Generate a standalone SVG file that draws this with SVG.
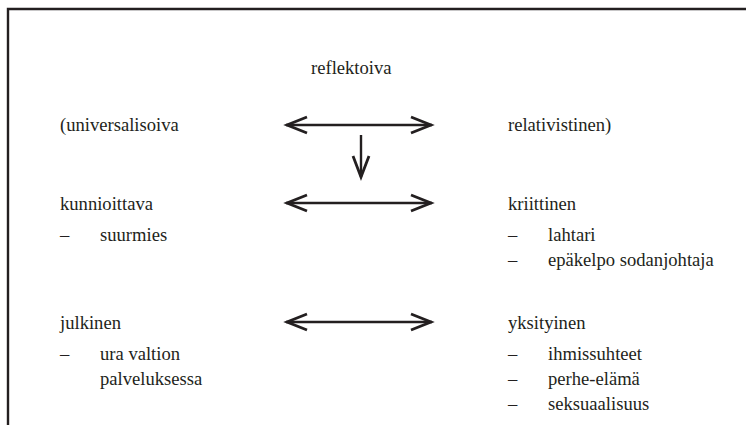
<svg xmlns="http://www.w3.org/2000/svg" width="746" height="425" viewBox="0 0 746 425">
<style>
text{font-family:'Liberation Serif','Times New Roman',serif;font-size:18.6px;fill:#231f20}
.ln{stroke:#231f20;stroke-width:2.4;fill:none}
.hd{stroke:#231f20;stroke-width:2.8;fill:none;stroke-linejoin:miter}
.frame{stroke:#231f20;stroke-width:2.4;fill:none}
</style>
<defs>
<g id="dbl">
<line class="ln" x1="286" y1="0" x2="432" y2="0"/>
<polyline class="hd" points="307,-8 287,0 307,8"/>
<polyline class="hd" points="411,-8 431,0 411,8"/>
</g>
</defs>
<rect width="746" height="425" fill="#fff"/>
<path class="frame" d="M8,426 V9 H747"/>
<g id="n-reflektoiva"><text x="311" y="74">reflektoiva</text></g>
<g id="n-universalisoiva"><text x="60" y="131">(universalisoiva</text></g>
<g id="n-relativistinen"><text x="508" y="131">relativistinen)</text></g>
<g id="n-kunnioittava"><text x="60" y="210">kunnioittava</text><text x="60" y="241">–</text><text x="100" y="241">suurmies</text></g>
<g id="n-kriittinen"><text x="508" y="210">kriittinen</text><text x="508" y="241">–</text><text x="548" y="241">lahtari</text><text x="508" y="266">–</text><text x="548" y="266">epäkelpo sodanjohtaja</text></g>
<g id="n-julkinen"><text x="60" y="329">julkinen</text><text x="60" y="360">–</text><text x="100" y="360">ura valtion</text><text x="100" y="385">palveluksessa</text></g>
<g id="n-yksityinen"><text x="508" y="329">yksityinen</text><text x="508" y="360">–</text><text x="548" y="360">ihmissuhteet</text><text x="508" y="385">–</text><text x="548" y="385">perhe-elämä</text><text x="508" y="410">–</text><text x="548" y="410">seksuaalisuus</text></g>
<g id="connectors">
<use href="#dbl" y="125"/>
<use href="#dbl" y="203"/>
<use href="#dbl" y="322"/>
<line class="ln" x1="361" y1="135" x2="361" y2="177"/>
<polyline class="hd" points="353,156 361,177 369,156"/>
</g>
</svg>
